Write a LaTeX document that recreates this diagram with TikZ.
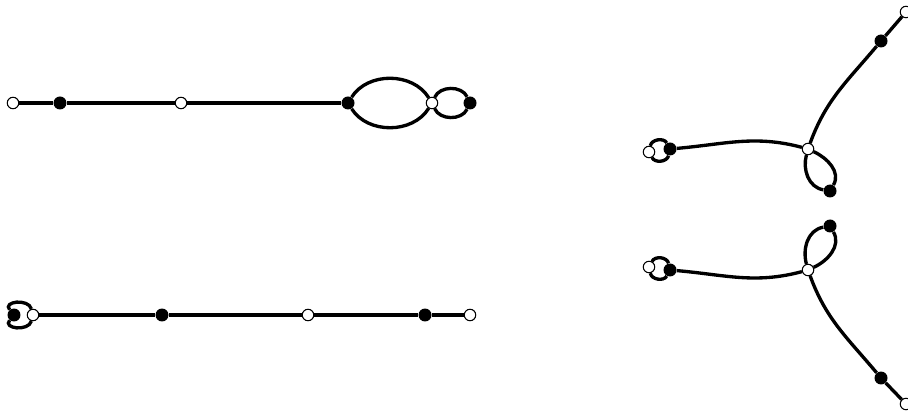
\documentclass[tikz,border=0pt]{standalone}
\begin{document}
\begin{tikzpicture}[x=0.02cm,y=0.02cm,
    wdot/.style={circle,draw,fill=white,line width=0.6pt,inner sep=0pt,minimum size=0.23cm},
    bdot/.style={circle,fill=black,inner sep=0pt,minimum size=0.26cm},
    gline/.style={line width=1.9pt}]
\useasboundingbox (0,0) rectangle (908,412);
% Top left graph
\node[wdot] (w1) at (13,309) {};
\node[bdot] (b1) at (60,309) {};
\node[wdot] (w2) at (181,309) {};
\node[bdot] (b2) at (348,309) {};
\node[wdot] (w3) at (432,309) {};
\node[bdot] (b3) at (470,309) {};
\draw[gline] (w1) -- (b1) -- (w2) -- (b2);
\draw[gline] (b2) to[bend left=58] (w3);
\draw[gline] (b2) to[bend right=58] (w3);
\draw[gline] (w3) to[bend left=65] (b3);
\draw[gline] (w3) to[bend right=65] (b3);
% Bottom left graph
\node[bdot] (b4) at (14,97) {};
\node[wdot] (w4) at (33,97) {};
\node[bdot] (b5) at (162,97) {};
\node[wdot] (w5) at (308,97) {};
\node[bdot] (b6) at (425,97) {};
\node[wdot] (w6) at (470,97) {};
\draw[gline] (w4) to[out=105,in=130,looseness=1.3] (b4);
\draw[gline] (w4) to[out=-105,in=-130,looseness=1.3] (b4);
\draw[gline] (w4) -- (b5) -- (w5) -- (b6) -- (w6);
% Top right graph
\node[wdot] (w7) at (649,260) {};
\node[bdot] (b7) at (670,263) {};
\node[wdot] (c1) at (808,263) {};
\node[bdot] (b8) at (830,221) {};
\node[bdot] (b9) at (881,371) {};
\node[wdot] (w8) at (906,400) {};
\draw[gline] (b7) to[bend left=70] (w7);
\draw[gline] (b7) to[bend right=70] (w7);
\draw[gline] (c1) to[out=165,in=5] (b7);
\draw[gline] (c1) to[out=70,in=230] (b9);
\draw[gline] (b9) -- (w8);
\draw[gline] (c1) to[out=255,in=170] (b8);
\draw[gline] (c1) to[out=-25,in=60] (b8);
% Bottom right graph
\node[wdot] (w9) at (649,145) {};
\node[bdot] (b10) at (670,142) {};
\node[wdot] (c2) at (808,142) {};
\node[bdot] (b11) at (830,186) {};
\node[bdot] (b12) at (881,34) {};
\node[wdot] (w10) at (906,8) {};
\draw[gline] (b10) to[bend left=70] (w9);
\draw[gline] (b10) to[bend right=70] (w9);
\draw[gline] (c2) to[out=195,in=-5] (b10);
\draw[gline] (c2) to[out=-70,in=130] (b12);
\draw[gline] (b12) -- (w10);
\draw[gline] (c2) to[out=105,in=190] (b11);
\draw[gline] (c2) to[out=25,in=-60] (b11);
\end{tikzpicture}
\end{document}
